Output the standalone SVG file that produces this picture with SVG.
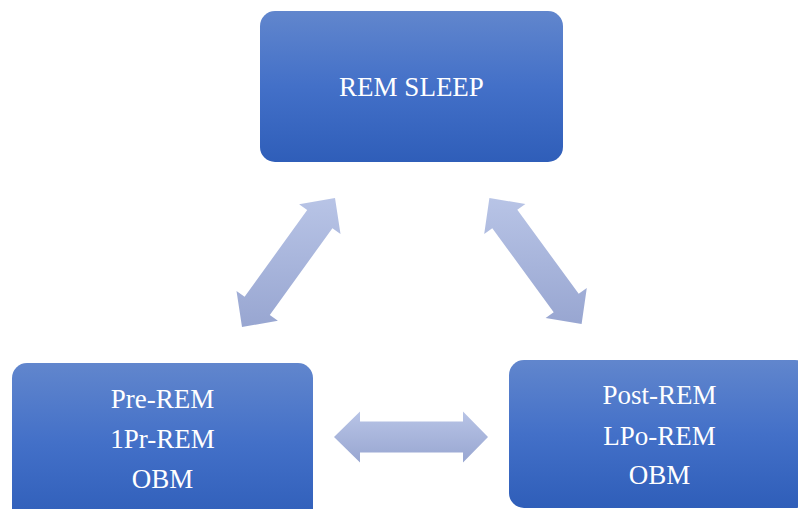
<svg xmlns="http://www.w3.org/2000/svg" width="798" height="509" viewBox="0 0 798 509">
  <defs>
    <linearGradient id="boxGrad" x1="0" y1="0" x2="0" y2="1">
      <stop offset="0" stop-color="#6186CD"/>
      <stop offset="0.5" stop-color="#4370C8"/>
      <stop offset="1" stop-color="#2F5EB9"/>
    </linearGradient>
    <linearGradient id="arrowGrad" x1="0" y1="0" x2="0" y2="1">
      <stop offset="0" stop-color="#B8C4E6"/>
      <stop offset="1" stop-color="#98A6D1"/>
    </linearGradient>
  </defs>
  <style>
    .box { fill: url(#boxGrad); }
    .arrow { fill: url(#arrowGrad); }
    .label { font-family: "Liberation Serif", "Times New Roman", serif; font-size: 27px; fill: #FFFFFF; text-anchor: middle; }
  </style>

  <g id="connectors">
    <polygon class="arrow" points="242,327 236.5,291 244.6,296.8 307.2,210 299.1,204.2 335,198 340.5,234 332.4,228.2 269.8,315 277.9,320.8"/>
    <polygon class="arrow" points="489.4,198.1 525.4,203.9 517.3,209.8 578.7,293.8 586.8,287.9 581.6,323.9 545.6,318.1 553.7,312.2 492.3,228.2 484.2,234.1"/>
    <polygon class="arrow" points="334,437 360,411.5 360,421.5 463,421.5 463,411.5 488,437 463,462.5 463,452.5 360,452.5 360,462.5"/>
  </g>

  <g id="rem-sleep">
    <rect class="box" x="260" y="11" width="303" height="151" rx="15" ry="15"/>
    <text class="label" x="411.5" y="96">REM SLEEP</text>
  </g>

  <g id="pre-rem">
    <rect class="box" x="12" y="363" width="301" height="160" rx="15" ry="15"/>
    <text class="label" x="162.5" y="408">Pre-REM</text>
    <text class="label" x="162.5" y="448">1Pr-REM</text>
    <text class="label" x="162.5" y="488">OBM</text>
  </g>

  <g id="post-rem">
    <rect class="box" x="509" y="360" width="301" height="148" rx="15" ry="15"/>
    <text class="label" x="659.5" y="404">Post-REM</text>
    <text class="label" x="659.5" y="445">LPo-REM</text>
    <text class="label" x="659.5" y="484">OBM</text>
  </g>
</svg>
